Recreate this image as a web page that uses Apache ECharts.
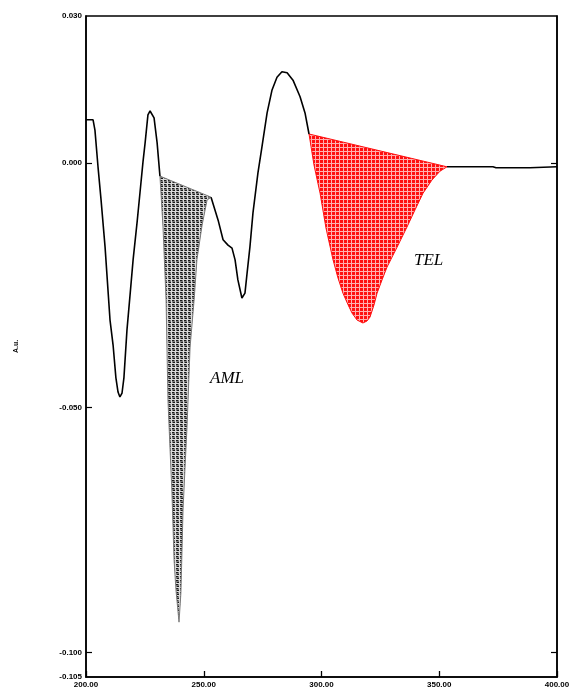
<!DOCTYPE html>
<html>
<head>
<meta charset="utf-8">
<script src="https://cdn.jsdelivr.net/npm/echarts@6/dist/echarts.min.js"></script>
<style>html,body{margin:0;padding:0;background:#fff;}#c{width:569px;height:696px;}</style>
</head>
<body>
<div id="c"></div>
<script>
// Wavelength (nm) and absorbance (A.u.)
const wavelength = [200.0,203.0,203.8,205.1,206.4,208.1,210.2,211.5,212.7,213.6,214.4,215.3,216.1,217.4,218.7,220.0,221.7,222.9,224.2,225.1,226.3,227.2,228.0,228.9,230.2,
  231.4,232.7,234.0,234.8,235.7,236.5,237.4,238.2,239.5,240.3,241.2,242.0,242.9,244.2,245.9,247.1,249.3,251.4,253.1,
  256.1,258.2,260.3,262.0,263.3,264.5,266.2,267.5,268.4,269.6,270.9,273.0,274.7,276.9,279.0,281.1,283.2,285.4,287.9,290.9,293.0,
  294.7,296.8,299.4,301.9,304.9,307.0,309.1,311.3,313.0,315.1,317.6,319.3,320.6,322.3,323.6,325.7,327.8,332.1,336.3,339.7,343.1,346.9,350.3,353.3,
  363.1,372.8,374.1,388.5,400.0];
const absorbance = [0.0088,0.0088,0.0067,-0.0008,-0.0076,-0.0172,-0.0321,-0.0372,-0.0439,-0.0468,-0.0478,-0.0470,-0.0439,-0.0341,-0.0270,-0.0198,-0.0121,-0.0062,0.0002,0.0041,0.0098,0.0106,0.0104,0.0092,0.0041,
  -0.0027,-0.0131,-0.0280,-0.0484,-0.0586,-0.0674,-0.0811,-0.0872,-0.0938,-0.0878,-0.0709,-0.0627,-0.0539,-0.0376,-0.0280,-0.0198,-0.0127,-0.0076,-0.0070,
  -0.0117,-0.0157,-0.0168,-0.0174,-0.0198,-0.0239,-0.0276,-0.0266,-0.0225,-0.0172,-0.0102,-0.0021,0.0032,0.0102,0.0149,0.0175,0.0186,0.0184,0.0169,0.0135,0.0102,
  0.0059,-0.0004,-0.0062,-0.0133,-0.0198,-0.0235,-0.0266,-0.0290,-0.0307,-0.0321,-0.0327,-0.0323,-0.0315,-0.0290,-0.0266,-0.0239,-0.0213,-0.0172,-0.0131,-0.0096,-0.0062,-0.0035,-0.0017,-0.0008,
  -0.0008,-0.0008,-0.0010,-0.0010,-0.0008];
const amlRange = [231.4, 253.1];
const telRange = [294.7, 353.3];
const xTicks = [200, 250, 300, 350, 400];
const yTicks = [0.03, 0, -0.05, -0.1, -0.105];
const yTickLabels = ['0.030', '0.000', '-0.050', '-0.100', '-0.105'];
const regionLabels = ['AML', 'TEL'];

const pts = wavelength.map((w, i) => [w, absorbance[i]]);
const inside = (w, r) => w > r[0] && w < r[1];
const linePts = pts.map(p => (inside(p[0], amlRange) || inside(p[0], telRange)) ? [p[0], '-'] : p);
const amlPts = pts.filter(p => p[0] >= amlRange[0] && p[0] <= amlRange[1]);
const telPts = pts.filter(p => p[0] >= telRange[0] && p[0] <= telRange[1]);

function makePattern(base, dot, line) {
  const c = document.createElement('canvas');
  c.width = 4; c.height = 4;
  const g = c.getContext('2d');
  g.fillStyle = base; g.fillRect(0, 0, 4, 4);
  if (dot) { g.fillStyle = dot; g.fillRect(0, 0, 2, 1); g.fillRect(1, 2, 2, 1); }
  g.fillStyle = line; g.fillRect(3, 0, 1, 4); g.fillRect(0, 3, 4, 1);
  return { image: c, repeat: 'repeat' };
}
const amlPattern = makePattern('#7a7a7a', '#1a1a1a', '#dcdcdc');
const telPattern = makePattern('#ff1010', null, '#ffb0b0');

function regionSeries(data, fill, stroke) {
  return {
    type: 'custom', data: data, encode: { x: 0, y: 1 }, silent: true, z: 3,
    renderItem: function (params, api) {
      if (params.dataIndex !== 0) return null;
      const points = data.map(p => api.coord(p));
      return { type: 'polygon', shape: { points: points }, style: { fill: fill, stroke: stroke, lineWidth: 1 } };
    }
  };
}

const chart = echarts.init(document.getElementById('c'), null, { renderer: 'canvas' });
const tickFont = { fontFamily: 'Liberation Sans', fontSize: 8, color: '#000', fontWeight: 'bold' };
chart.setOption({
  backgroundColor: '#fff',
  animation: false,
  grid: { left: 86, right: 12, top: 16, bottom: 19, outerBoundsMode: 'none', containLabel: false, show: true, borderColor: '#000', borderWidth: 1.5, backgroundColor: 'transparent' },
  xAxis: {
    type: 'value', min: 200, max: 400, interval: 50,
    axisLine: { show: true, onZero: false, lineStyle: { color: '#000', width: 1.5 } },
    axisTick: { show: true, inside: true, length: 6, lineStyle: { color: '#000', width: 1.3 } },
    axisLabel: Object.assign({ margin: 4, formatter: v => v.toFixed(2), customValues: xTicks, showMinLabel: true, showMaxLabel: true, hideOverlap: false }, tickFont),
    splitLine: { show: false }
  },
  yAxis: [{
    type: 'value', min: -0.105, max: 0.03,
    name: 'A.u.', nameLocation: 'middle', nameGap: 66, nameRotate: 90,
    nameTextStyle: { fontFamily: 'Liberation Sans', fontSize: 7, color: '#000', fontWeight: 'bold' },
    axisLine: { show: true, onZero: false, lineStyle: { color: '#000', width: 1.5 } },
    axisTick: { show: true, inside: true, length: 6, lineStyle: { color: '#000', width: 1.2 }, customValues: [0, -0.05, -0.1] },
    axisLabel: Object.assign({ margin: 4, customValues: yTicks, hideOverlap: false, formatter: v => yTickLabels[yTicks.findIndex(t => Math.abs(t - v) < 1e-9)] || '' }, tickFont),
    splitLine: { show: false }
  }, {
    type: 'value', min: -0.105, max: 0.03, position: 'right',
    axisLine: { show: true, onZero: false, lineStyle: { color: '#000', width: 1.5 } },
    axisTick: { show: true, inside: true, length: 6, lineStyle: { color: '#000', width: 1.2 }, customValues: [0, -0.1] },
    axisLabel: { show: false }, splitLine: { show: false }
  }],
  series: [
    regionSeries(amlPts, amlPattern, '#7a7a7a'),
    regionSeries(telPts, telPattern, '#ff1010'),
    {
      type: 'line', data: linePts, showSymbol: false, connectNulls: false, z: 4,
      lineStyle: { color: '#000', width: 1.6 }, silent: true
    }
  ],
  graphic: [
    { type: 'text', left: 210, top: 370, style: { text: regionLabels[0], font: 'italic 17px "Liberation Serif"', fill: '#000' } },
    { type: 'text', left: 414, top: 252, style: { text: regionLabels[1], font: 'italic 17px "Liberation Serif"', fill: '#000' } }
  ]
});
</script>
</body>
</html>
